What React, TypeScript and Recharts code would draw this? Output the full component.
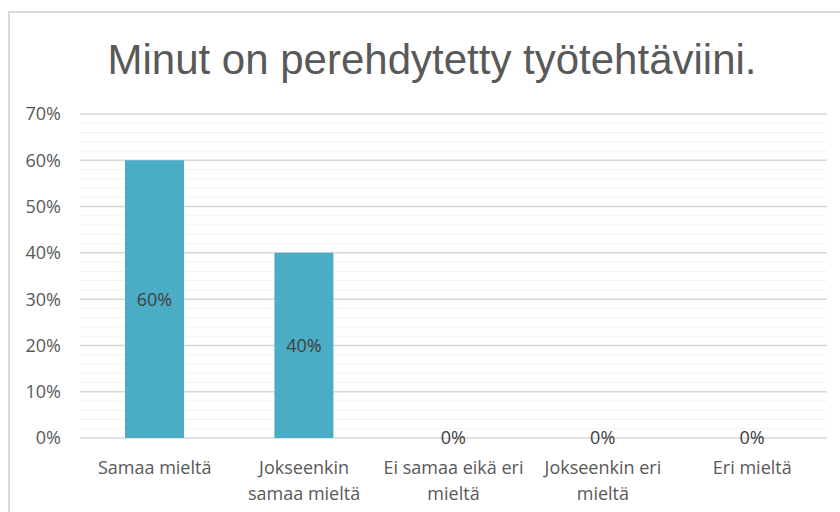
import React from "react";
import { BarChart, Bar, XAxis, YAxis, CartesianGrid, LabelList } from "recharts";

const categories = ["Samaa mieltä", "Jokseenkin samaa mieltä", "Ei samaa eikä eri mieltä", "Jokseenkin eri mieltä", "Eri mieltä"];
const shares = [0.6, 0.4, 0, 0, 0];
const majorTicks = [0, 0.1, 0.2, 0.3, 0.4, 0.5, 0.6, 0.7];
const minorTicks = [0.02, 0.04, 0.06, 0.08, 0.12, 0.14, 0.16, 0.18, 0.22, 0.24, 0.26, 0.28, 0.32, 0.34, 0.36, 0.38, 0.42, 0.44, 0.46, 0.48, 0.52, 0.54, 0.56, 0.58, 0.62, 0.64, 0.66, 0.68];
const title = "Minut on perehdytetty työtehtäviini.";
const yMax = 0.7;

const data = categories.map((name, i) => ({ name, value: shares[i] }));

const pct = (v: number) => `${Math.round(v * 100)}%`;
const labelFont = "Open Sans, sans-serif";
const tickSize = 18;

// minor grid lines, placed on the same linear scale as the y axis
const minorGrid = ({ yAxis, offset }: any) => {
    if (yAxis && typeof yAxis.scale === "function") return minorTicks.map((t) => yAxis.scale(t));
    return minorTicks.map((t) => offset.top + offset.height * (1 - t / yMax));
};

let ctx: CanvasRenderingContext2D | null = null;
function textWidth(s: string) {
    if (!ctx) ctx = document.createElement("canvas").getContext("2d");
    if (!ctx) return s.length * tickSize * 0.55;
    ctx.font = `${tickSize}px ${labelFont}`;
    return ctx.measureText(s).width;
}

// greedy word wrap, like the category labels in the original
function wrap(label: string, maxWidth: number) {
    const lines: string[] = [];
    let cur = "";
    for (const w of label.split(" ")) {
        const next = cur ? `${cur} ${w}` : w;
        if (cur && textWidth(next) > maxWidth) {
            lines.push(cur);
            cur = w;
        } else cur = next;
    }
    if (cur) lines.push(cur);
    return lines;
}

function CategoryTick(props: any) {
    const { x, y, payload } = props;
    const lines = wrap(String(payload.value), 142);
    return (
        <text x={x} y={y + 28} textAnchor="middle" fill="#595959" fontSize={tickSize} fontFamily={labelFont}>
            {lines.map((l, i) => (
                <tspan key={i} x={x} dy={i === 0 ? 0 : 26}>
                    {l}
                </tspan>
            ))}
        </text>
    );
}

export default function App() {
    return (
        <div style={{ position: "absolute", left: 0, top: 0, width: 840, height: 512, overflow: "hidden", background: "#fff" }}>
            <div style={{ position: "absolute", left: 8, top: 11, width: 900, height: 600, border: "2px solid #d9d9d9" }} />
            <div
                style={{
                    position: "absolute",
                    left: 0,
                    top: 35,
                    width: 864,
                    textAlign: "center",
                    fontFamily: "Liberation Sans, Arial, sans-serif",
                    fontSize: 42,
                    color: "#595959",
                    lineHeight: "50px",
                }}
            >
                {title}
            </div>
            <div style={{ position: "absolute", left: 0, top: 0 }}>
                <BarChart width={840} height={512} data={data} margin={{ top: 114, right: 13, left: 20, bottom: 0 }}>
                    <CartesianGrid
                        vertical={false}
                        stroke="#f2f2f2"
                        strokeWidth={1}
                        horizontalCoordinatesGenerator={minorGrid}
                    />
                    <CartesianGrid vertical={false} stroke="#d9d9d9" strokeWidth={1.5} />
                    <XAxis
                        dataKey="name"
                        axisLine={false}
                        tickLine={false}
                        height={74}
                        interval={0}
                        tick={<CategoryTick />}
                    />
                    <YAxis
                        domain={[0, yMax]}
                        ticks={majorTicks}
                        tickFormatter={pct}
                        axisLine={false}
                        tickLine={false}
                        width={60}
                        tickMargin={13}
                        tick={{ fill: "#595959", fontSize: tickSize, fontFamily: labelFont }}
                    />
                    <Bar dataKey="value" fill="#4bacc6" barSize={59} minPointSize={0.01} isAnimationActive={false}>
                        <LabelList
                            dataKey="value"
                            position="center"
                            formatter={(v: any) => pct(Number(v))}
                            fill="#404040"
                            fontSize={tickSize}
                            fontFamily={labelFont}
                        />
                    </Bar>
                </BarChart>
            </div>
        </div>
    );
}
